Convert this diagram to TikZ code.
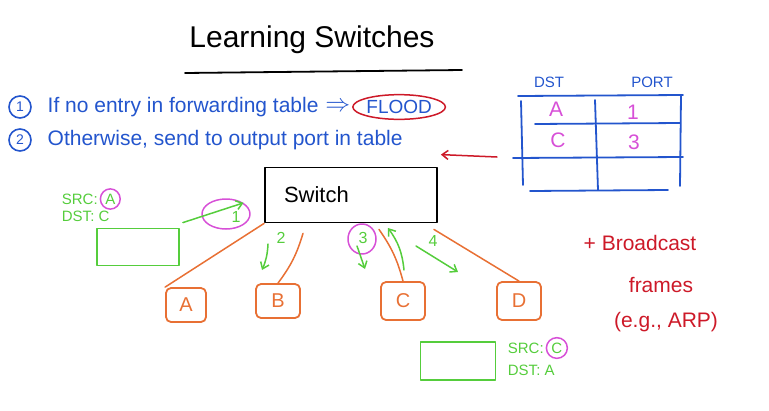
\documentclass[tikz,border=0pt]{standalone}
\usepackage{fontspec}
\setmainfont{Liberation Sans}
\usepackage{xcolor}
\usetikzlibrary{shapes.geometric, arrows.meta, positioning}

\definecolor{penblue}{RGB}{35,85,205}
\definecolor{penred}{RGB}{205,25,40}
\definecolor{penpink}{RGB}{215,80,215}
\definecolor{penorange}{RGB}{232,112,52}
\definecolor{pengreen}{RGB}{85,205,60}

\begin{document}
\begin{tikzpicture}[x=1pt, y=-1pt, line width=1.8pt, line cap=round, line join=round,
    every node/.style={font=\fontsize{19}{22}\selectfont, inner sep=1pt}]
    % Styles
    \tikzstyle{numring} = [circle, draw=penblue, text=penblue, line width=1.6pt, minimum size=22pt, inner sep=0pt, font=\fontsize{14}{15}\selectfont]
    \tikzstyle{rule} = [text=penblue, anchor=west, font=\fontsize{21}{24}\selectfont]
    \tikzstyle{hostbox} = [rectangle, rounded corners=5pt, draw=penorange, text=penorange, minimum width=40pt, minimum height=34pt, font=\fontsize{20}{23}\selectfont]
    \tikzstyle{pktbox} = [rectangle, draw=pengreen, minimum width=82pt, minimum height=37pt]
    \tikzstyle{pktlabel} = [text=pengreen, anchor=west, font=\fontsize{15}{17}\selectfont]
    \tikzstyle{ring} = [ellipse, draw=penpink, line width=1.5pt, inner sep=2pt]
    \tikzstyle{link} = [draw=penorange, line width=1.5pt]
    \tikzstyle{move} = [draw=pengreen, line width=1.5pt, -{Straight Barb[length=6pt, width=9pt]}]
    \tikzstyle{stepnum} = [text=pengreen, font=\fontsize{16}{18}\selectfont]
    \tikzstyle{cell} = [text=penpink, font=\fontsize{21}{24}\selectfont]
    \tikzstyle{note} = [text=penred, font=\fontsize{21}{24}\selectfont]

    \useasboundingbox (0,0) rectangle (769,410);

    % Title
    \node[font=\fontsize{30}{34}\selectfont] (title) at (312,40) {Learning Switches};
    \draw (185,73) -- (462,70);

    % Rules
    \node[numring] (n1) at (20,107) {1};
    \node[rule, right=14pt of n1] (rule1) {If no entry in forwarding table};
    \node[text=penblue, right=3pt of rule1, font=\fontsize{24}{26}\selectfont] (implies) {$\Rightarrow$};
    \node[ring, draw=penred, text=penblue, right=0pt of implies, inner xsep=0pt] (flood) {FLOOD};
    \node[numring] (n2) at (20,140) {2};
    \node[rule, right=14pt of n2] (rule2) {Otherwise, send to output port in table};

    % Forwarding table
    \node[text=penblue, font=\fontsize{15}{17}\selectfont] (dst) at (549,82) {DST};
    \node[text=penblue, font=\fontsize{15}{17}\selectfont] (port) at (652,82) {PORT};
    \draw[penblue] (518,96) -- (683,95);
    \draw[penblue] (535,124) -- (680,123);
    \draw[penblue] (513,158) -- (683,157);
    \draw[penblue] (530,191) -- (668,190);
    \draw[penblue] (521,101) -- (523,185);
    \draw[penblue] (595,100) -- (598,190);
    \draw[penblue] (681,96) -- (680,186);
    \node[cell] (dstA) at (556,109) {A};
    \node[cell] (portA) at (633,112) {1};
    \node[cell] (dstC) at (558,140) {C};
    \node[cell] (portC) at (634,142) {3};
    \coordinate (tbl) at (497,157);

    % Switch
    \node[rectangle, draw, minimum width=172pt, minimum height=55pt] (switch) at (351,195) {};
    \node[anchor=west, font=\fontsize{22}{25}\selectfont] (swlabel) at ([xshift=18pt]switch.west) {Switch};
    \draw[penred, line width=1.5pt, -{Straight Barb[length=6pt, width=9pt]}] (tbl) -- ([shift={(3,-12)}]switch.north east);

    % Hosts
    \node[hostbox] (hostA) at (186,305) {A};
    \node[hostbox, minimum width=44pt] (hostB) at (278,301) {B};
    \node[hostbox, minimum width=44pt, minimum height=38pt] (hostC) at (403,301) {C};
    \node[hostbox, minimum width=44pt, minimum height=38pt] (hostD) at (519,301) {D};

    % Links
    \draw[link] (switch.south west) -- (hostA.north west);
    \draw[link] ([xshift=-48pt, yshift=-10pt]switch.south) to[bend left=10] (hostB.north);
    \draw[link] ([xshift=28pt, yshift=-6pt]switch.south) to[bend left=10] (hostC.north);
    \draw[link] ([xshift=-4pt, yshift=-6pt]switch.south east) -- (hostD.north);

    % Frame from A
    \node[pktbox] (pkt1) at (138,247) {};
    \node[pktlabel] (src1) at (60,199) {SRC:};
    \node[ring, text=pengreen, font=\fontsize{15}{17}\selectfont, right=0pt of src1] (src1A) {A};
    \node[pktlabel] (dst1) at (60,216) {DST: C};
    \node[ring, minimum width=48pt, minimum height=30pt] (ring1) at (226,214) {};
    \node[stepnum] (step1) at (236,217) {1};
    \draw[move] ([shift={(3,-5)}]pkt1.north east) -- (ring1.north east);

    % Flooding steps
    \coordinate (s2a) at (268,244);
    \coordinate (s2b) at (262,270);
    \draw[move] (s2a) to[bend left=10] (s2b);
    \node[stepnum] (step2) at (281,238) {2};
    \node[ring, minimum width=28pt, minimum height=30pt] (ring3) at (362,239) {};
    \node[stepnum] (step3) at (363,238) {3};
    \coordinate (s3a) at (357,246);
    \coordinate (s3b) at (365,269);
    \draw[move] (s3a) -- (s3b);
    \coordinate (backa) at (404,270);
    \coordinate (backb) at (388,228);
    \draw[move] (backa) to[bend right=15] (backb);
    \node[stepnum] (step4) at (433,241) {4};
    \coordinate (s4a) at (416,246);
    \coordinate (s4b) at (458,272);
    \draw[move] (s4a) -- (s4b);

    % Frame from C
    \node[pktbox, minimum width=75pt, minimum height=38pt] (pkt2) at (458,361) {};
    \node[pktlabel] (src2) at (506,348) {SRC:};
    \node[ring, text=pengreen, font=\fontsize{15}{17}\selectfont, right=0pt of src2] (src2C) {C};
    \node[pktlabel] (dst2) at (506,370) {DST: A};

    % Broadcast note
    \node[note] (bcast) at (640,243) {+ Broadcast};
    \node[note] (frames) at (661,285) {frames};
    \node[note] (arp) at (666,322) {(e.g., ARP)};
\end{tikzpicture}
\end{document}
